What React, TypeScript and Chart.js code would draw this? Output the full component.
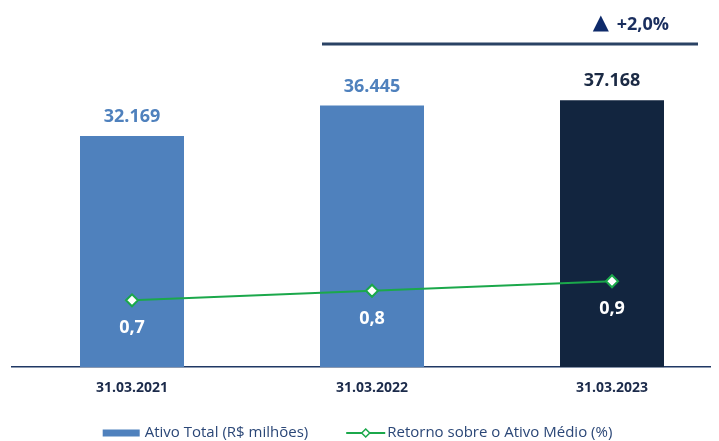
import React, { useEffect, useRef } from 'react';
import { Chart, registerables } from 'chart.js';

Chart.register(...registerables);

const categories = ['31.03.2021', '31.03.2022', '31.03.2023'];
const ativoTotal = [32169, 36445, 37168];
const retorno = [0.7, 0.8, 0.9];
const seriesNames = ['Ativo Total (R$ milhões)', 'Retorno sobre o Ativo Médio (%)'];
const variationArrow = '▲';
const variationValue = '+2,0%';
const barColors = ['#4F81BD', '#4F81BD', '#12253F'];
const barLabelColors = ['#4F81BD', '#4F81BD', '#1B2A44'];

const FONT = '"Open Sans", "DejaVu Sans", sans-serif';
const GREEN = '#1BA84B';
const NAVY = '#1B2A4A';

const fmtThousands = (v: number) => String(v).replace(/\B(?=(\d{3})+(?!\d))/g, '.');
const fmtPct = (v: number) => v.toFixed(1).replace('.', ',');

const labelsPlugin = {
  id: 'customLabels',
  afterDatasetsDraw(chart: any) {
    const ctx = chart.ctx;
    ctx.save();
    ctx.textAlign = 'center';
    ctx.textBaseline = 'middle';
    const barMeta = chart.getDatasetMeta(0);
    ctx.font = `bold 18px ${FONT}`;
    barMeta.data.forEach((bar: any, i: number) => {
      ctx.fillStyle = barLabelColors[i];
      ctx.fillText(fmtThousands(ativoTotal[i]), bar.x, bar.y - 19);
    });
    const lineMeta = chart.getDatasetMeta(1);
    ctx.fillStyle = '#FFFFFF';
    lineMeta.data.forEach((pt: any, i: number) => {
      ctx.fillText(fmtPct(retorno[i]), pt.x, pt.y + 28);
    });

    // variation bracket
    const xs = chart.scales.x;
    const ys = chart.scales.y;
    const lineY = ys.getPixelForValue(45000);
    ctx.strokeStyle = '#2A4264';
    ctx.lineWidth = 3;
    ctx.beginPath();
    ctx.moveTo(xs.getPixelForValue(1) - 50, lineY);
    ctx.lineTo(xs.getPixelForValue(2) + 86, lineY);
    ctx.stroke();
    ctx.fillStyle = '#1A2E5E';
    ctx.textAlign = 'right';
    ctx.font = `bold 18px ${FONT}`;
    const valueRight = xs.getPixelForValue(2) + 57;
    const valueW = ctx.measureText(variationValue).width;
    ctx.fillText(variationValue, valueRight, lineY - 19);
    ctx.fillStyle = '#0E2A6A';
    ctx.font = `21px "DejaVu Sans", sans-serif`;
    ctx.fillText(variationArrow, valueRight - valueW - 8, lineY - 20);
    ctx.restore();
  },
  afterDraw(chart: any) {
    const ctx = chart.ctx;
    const area = chart.chartArea;
    ctx.save();
    ctx.font = `15px ${FONT}`;
    const w1 = ctx.measureText(seriesNames[0]).width;
    const w2 = ctx.measureText(seriesNames[1]).width;
    const boxW = 37;
    const lineW = 39;
    const total = boxW + 5 + w1 + 38 + lineW + 2 + w2;
    const cx = (area.left + area.right) / 2 - 14.5;
    const y = chart.height - 8;
    let x = cx - total / 2;
    ctx.fillStyle = barColors[0];
    ctx.fillRect(x, y - 3.5, boxW, 7);
    x += boxW + 5;
    ctx.fillStyle = '#2B4777';
    ctx.textAlign = 'left';
    ctx.textBaseline = 'middle';
    ctx.fillText(seriesNames[0], x, y);
    x += w1 + 38;
    ctx.strokeStyle = GREEN;
    ctx.lineWidth = 2;
    ctx.beginPath();
    ctx.moveTo(x, y);
    ctx.lineTo(x + lineW, y);
    ctx.stroke();
    const dx = x + lineW / 2;
    ctx.beginPath();
    ctx.moveTo(dx - 4, y);
    ctx.lineTo(dx, y - 4);
    ctx.lineTo(dx + 4, y);
    ctx.lineTo(dx, y + 4);
    ctx.closePath();
    ctx.fillStyle = '#FFFFFF';
    ctx.fill();
    ctx.lineWidth = 1.5;
    ctx.stroke();
    x += lineW + 2;
    ctx.fillStyle = '#2B4777';
    ctx.fillText(seriesNames[1], x, y);
    ctx.restore();
  },
};

export default function App() {
  const canvasRef = useRef<HTMLCanvasElement | null>(null);

  useEffect(() => {
    if (!canvasRef.current) return;
    const chart = new Chart(canvasRef.current, {
      type: 'bar',
      data: {
        labels: categories,
        datasets: [
          {
            type: 'bar',
            label: seriesNames[0],
            data: ativoTotal,
            backgroundColor: barColors,
            barPercentage: 104 / 240,
            categoryPercentage: 1,
            yAxisID: 'y',
            order: 2,
          },
          {
            type: 'line',
            label: seriesNames[1],
            data: retorno,
            borderColor: GREEN,
            borderWidth: 2,
            pointStyle: 'rectRot',
            pointRadius: 6,
            pointBorderWidth: 2,
            pointBackgroundColor: '#FFFFFF',
            pointBorderColor: GREEN,
            yAxisID: 'y1',
            order: 1,
          },
        ] as any,
      },
      options: {
        animation: false,
        responsive: true,
        maintainAspectRatio: false,
        layout: { autoPadding: false, padding: { left: 4, right: 4, top: 0, bottom: 33 } },
        plugins: {
          legend: { display: false },
          tooltip: { enabled: false },
        },
        scales: {
          x: {
            grid: { display: false, drawTicks: false },
            border: { display: true, color: '#1F3864', width: 1.5 },
            ticks: {
              color: NAVY,
              font: { family: FONT, size: 14, weight: 'bold' },
              padding: 12,
            },
          },
          y: { display: false, min: 0, max: 50000 },
          y1: { display: false, min: 0, max: 3.76, position: 'right' },
        },
      },
      plugins: [labelsPlugin],
    });
    return () => chart.destroy();
  }, []);

  return (
    <div style={{ width: 711, height: 433, overflow: 'hidden' }}>
      <div style={{ width: 728, height: 433, position: 'relative' }}>
        <canvas ref={canvasRef} />
      </div>
    </div>
  );
}
